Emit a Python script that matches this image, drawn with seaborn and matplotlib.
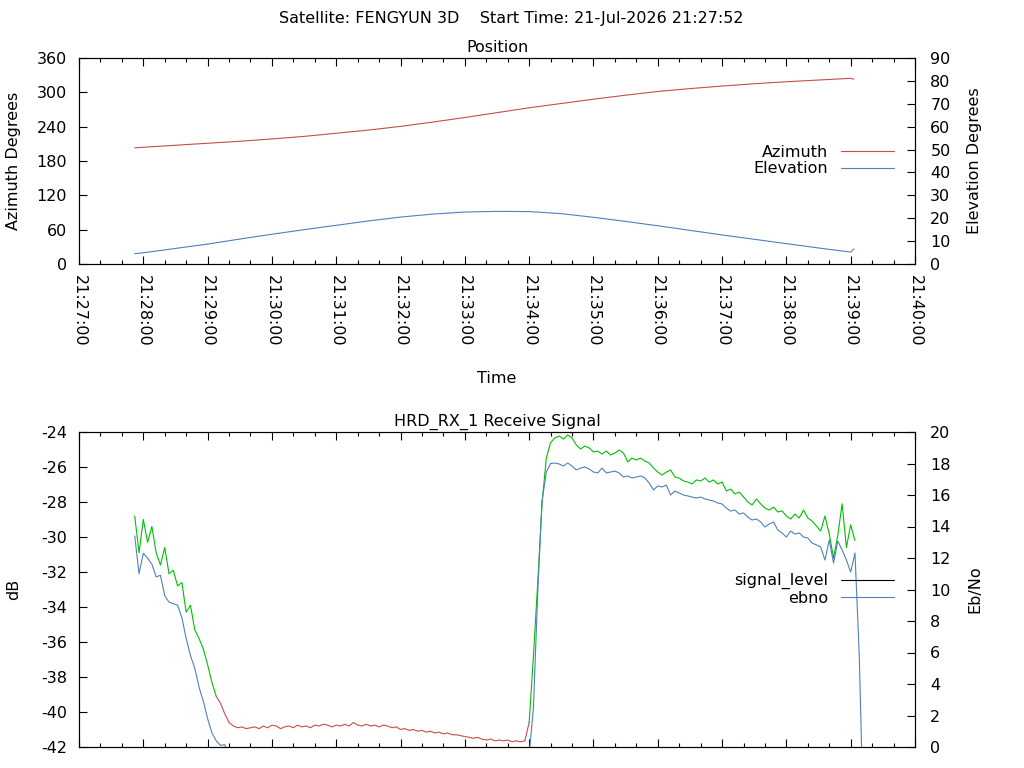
import numpy as np
import pandas as pd
import matplotlib
matplotlib.use("Agg")
import matplotlib.pyplot as plt
import matplotlib.dates as mdates
from matplotlib.lines import Line2D
import seaborn as sns

# ---------------- data ----------------
satellite = "FENGYUN 3D"
start_time = "21-Jul-2026 21:27:52"
axis_start = "2026-07-21 21:27:00"
axis_end = "2026-07-21 21:40:00"

# antenna position, seconds after 21:27:00
position_seconds = [52, 60, 90, 120, 150, 180, 210, 240, 270, 300, 330, 360, 390,
                    420, 450, 480, 510, 540, 570, 600, 630, 660, 690, 720, 723]
azimuth_deg = [203, 204, 207.5, 211, 214.5, 218.5, 223, 228.5, 234, 240.5, 248, 256, 264.5,
               273, 280.5, 288, 295, 301.5, 306.5, 311, 315, 318.5, 321.5, 324.5, 323]
elevation_deg = [4.5, 4.9, 6.8, 8.7, 10.9, 13.0, 15.0, 16.9, 18.8, 20.5, 21.8, 22.7, 23.0,
                 22.9, 22.0, 20.4, 18.6, 16.7, 14.7, 12.7, 10.8, 8.9, 7.0, 5.2, 6.6]

# receiver samples, every 4 s from 21:27:52
signal_start = "2026-07-21 21:27:52"
signal_step_s = 4
signal_level_db = [
    -28.8, -30.9, -29.0, -30.3, -29.4, -30.9, -31.6, -30.6, -32.1, -31.9,
    -32.8, -32.6, -34.3, -33.9, -35.3, -35.8, -36.4, -37.3, -38.3, -39.1,
    -39.5, -40.1, -40.6, -40.8, -40.9,
    -40.85, -40.95, -40.9, -40.85, -40.95, -40.8, -40.9, -40.75, -40.8, -40.95,
    -40.85, -40.8, -40.9, -40.75, -40.85, -40.8, -40.9, -40.75, -40.8, -40.7,
    -40.75, -40.85, -40.75, -40.8, -40.7, -40.8, -40.6, -40.75, -40.8, -40.7,
    -40.8, -40.75, -40.85, -40.75, -40.8, -40.9, -40.85, -41.0, -40.95, -41.05,
    -41.0, -41.1, -41.05, -41.15, -41.1, -41.2, -41.15, -41.25, -41.2, -41.3,
    -41.3, -41.35, -41.4, -41.45, -41.5, -41.45, -41.55, -41.6, -41.55, -41.65,
    -41.6, -41.65, -41.6, -41.7, -41.65, -41.7, -41.65,
    -40.6, -36.8, -32.6, -28.1, -25.5, -24.6,
    -24.34, -24.23, -24.40, -24.17, -24.34, -24.74, -24.97, -24.80, -24.91, -25.14,
    -25.09, -25.26, -25.09, -25.31, -25.20, -25.03, -25.20, -25.71, -25.49, -25.60,
    -25.49, -25.66, -25.77, -26.06, -26.29, -26.46, -26.29, -26.17, -26.57, -26.63,
    -26.80, -26.86, -26.97, -26.74, -26.80, -26.63, -26.86, -26.74, -26.97, -26.86,
    -27.37, -27.26, -27.54, -27.43, -27.71, -28.00, -28.17, -27.83, -28.11, -28.34,
    -28.46, -28.29, -28.57, -28.51, -28.80, -28.97, -28.69, -28.91, -28.46, -28.91,
    -29.09, -29.37, -29.66, -28.80, -29.83, -31.20, -29.90, -28.10, -30.60, -29.30,
    -30.20, np.nan, np.nan,
]
ebno_db = [
    13.4, 11.0, 12.3, 12.0, 11.6, 10.8, 10.9, 9.6, 9.2, 9.1,
    9.0, 8.2, 6.9, 5.8, 5.0, 3.8, 2.9, 1.8, 0.9, 0.4,
    0.1, 0.15, -0.6,
    -1.1, -1.4, -1.2, -1.6, -1.3, -1.5, -1.7, -1.4, -1.6, -1.8,
    -1.5, -1.7, -1.6, -1.9, -1.7, -1.8, -1.6, -1.9, -1.8, -2.0,
    -1.7, -1.9, -1.8, -2.1, -1.9, -2.0, -1.8, -2.1, -1.9, -2.0,
    -2.2, -2.0, -2.1, -1.9, -2.2, -2.0, -2.3, -2.1, -2.2, -2.0,
    -2.3, -2.2, -2.4, -2.1, -2.3, -2.5, -2.2, -2.4, -2.3, -2.5,
    -2.4, -2.6, -2.3, -2.5, -2.6, -2.4, -2.7, -2.5, -2.6, -2.4,
    -2.7, -2.5, -2.6, -2.8, -2.6, -2.7, -2.5, -2.8, -2.6,
    -0.5, 2.5, 9.8, 15.6, 17.46, 18.0,
    18.03, 17.97, 17.84, 18.03, 17.84, 17.59, 17.71, 17.78, 17.65, 17.46,
    17.40, 17.71, 17.40, 17.46, 17.52, 17.40, 17.14, 17.21, 17.08, 17.14,
    17.21, 17.08, 16.76, 16.32, 16.57, 16.51, 16.63, 16.00, 16.25, 16.13,
    16.00, 15.94, 15.87, 15.81, 15.87, 15.75, 15.68, 15.62, 15.49, 15.43,
    15.17, 14.98, 15.05, 14.79, 14.86, 14.60, 14.41, 14.48, 14.29, 13.97,
    14.16, 14.29, 13.78, 13.59, 13.33, 13.71, 13.52, 13.59, 13.33, 13.27,
    12.95, 12.83, 12.70, 11.87, 13.14, 11.68, 13.08, 12.51, 11.87, 11.11,
    12.32, 5.8, -5.0,
]
lock_threshold = 0.3

az_ticks = [0, 60, 120, 180, 240, 300, 360]
el_ticks = [0, 10, 20, 30, 40, 50, 60, 70, 80, 90]
db_ticks = [-42, -40, -38, -36, -34, -32, -30, -28, -26, -24]
ebno_ticks = [0, 2, 4, 6, 8, 10, 12, 14, 16, 18, 20]

RED = "#c0504d"
BLUE = "#4f81bd"
GREEN = "#00c000"
FS = 11.5
LW = 0.8

# ---------------- style ----------------
sns.set_style("ticks")
plt.rcParams["font.family"] = ["DejaVu Sans"]
plt.rcParams.update({
    "axes.unicode_minus": False,
    "text.color": "black", "axes.labelcolor": "black",
    "xtick.color": "black", "ytick.color": "black",
    "axes.edgecolor": "black", "axes.linewidth": 0.8,
    "font.size": FS,
})

fig = plt.figure(figsize=(10.24, 7.68), dpi=100)
W, H = 1024, 768
ax_pos = fig.add_axes([79 / W, 1 - 264 / H, 836 / W, 206 / H])
ax_el = ax_pos.twinx()
ax_sig = fig.add_axes([79 / W, 1 - 747 / H, 836 / W, 315 / H])
ax_eb = ax_sig.twinx()

base = pd.Timestamp(axis_start)
pos_times = base + pd.to_timedelta(position_seconds, unit="s")
pos_df = pd.DataFrame({"time": pos_times, "az": azimuth_deg, "el": elevation_deg})

sns.lineplot(data=pos_df, x="time", y="az", ax=ax_pos, color=RED, linewidth=LW, legend=False)
sns.lineplot(data=pos_df, x="time", y="el", ax=ax_el, color=BLUE, linewidth=LW, legend=False)

sig_times = pd.date_range(signal_start, periods=len(signal_level_db), freq=f"{signal_step_s}s")
sig = np.array(signal_level_db, dtype=float)
eb = np.array(ebno_db, dtype=float)
lock = eb > lock_threshold
idx = np.flatnonzero(~np.isnan(sig))
runs = []
s0 = idx[0]
for i in idx[1:]:
    if lock[i] != lock[i - 1]:
        runs.append((s0, i - 1))
        s0 = i
runs.append((s0, idx[-1]))
frames = []
for n, (s, e) in enumerate(runs):
    lo = s - 1 if s > idx[0] else s
    frames.append(pd.DataFrame({
        "time": sig_times[lo:e + 1], "dB": sig[lo:e + 1], "seg": n,
        "state": "lock" if lock[s] else "nolock"}))
sig_df = pd.concat(frames, ignore_index=True)
sns.lineplot(data=sig_df, x="time", y="dB", hue="state", units="seg", estimator=None,
             palette={"lock": GREEN, "nolock": RED}, linewidth=LW, legend=False,
             sort=False, ax=ax_sig)
eb_df = pd.DataFrame({"time": sig_times, "ebno": eb})
sns.lineplot(data=eb_df, x="time", y="ebno", ax=ax_eb, color=BLUE, linewidth=LW,
             legend=False, estimator=None)

# ---------------- axes ----------------
xlim = (pd.Timestamp(axis_start), pd.Timestamp(axis_end))
for ax in (ax_pos, ax_sig):
    ax.set_xlim(*xlim)
    ax.xaxis.set_major_locator(mdates.MinuteLocator())
    ax.xaxis.set_minor_locator(mdates.SecondLocator(bysecond=[20, 40]))
    ax.xaxis.set_major_formatter(mdates.DateFormatter("%H:%M:%S"))
    ax.tick_params(axis="x", which="both", direction="in", top=True, bottom=True)
    ax.tick_params(axis="x", which="major", length=5.5, width=0.8)
    ax.tick_params(axis="x", which="minor", length=3, width=0.8)
    ax.tick_params(axis="y", which="both", direction="in", left=True, right=False,
                   length=5.5, width=0.8, labelsize=FS, pad=8.5)
for ax in (ax_el, ax_eb):
    ax.tick_params(axis="y", which="both", direction="in", right=True, left=False,
                   length=5.5, width=0.8, labelsize=FS, pad=11)

ax_pos.tick_params(axis="x", which="major", labelsize=FS, labelrotation=-90, pad=8)
ax_sig.tick_params(axis="x", which="both", labelbottom=False)

ax_pos.set_ylim(0, 360)
ax_pos.set_yticks(az_ticks)
ax_el.set_ylim(0, 90)
ax_el.set_yticks(el_ticks)
ax_sig.set_ylim(-42, -24)
ax_sig.set_yticks(db_ticks)
ax_eb.set_ylim(0, 20)
ax_eb.set_yticks(ebno_ticks)

ax_pos.set_xlabel("Time", fontsize=FS)
ax_pos.xaxis.set_label_coords(0.5, (264 - 371) / 206)
ax_sig.set_xlabel("")
ax_pos.set_ylabel("Azimuth Degrees", fontsize=FS)
ax_pos.yaxis.set_label_coords((21 - 79) / 836, 0.5)
ax_el.set_ylabel("Elevation Degrees", fontsize=FS)
ax_el.yaxis.set_label_coords((967 - 79) / 836, 0.5)
ax_sig.set_ylabel("dB", fontsize=FS)
ax_sig.yaxis.set_label_coords((21 - 79) / 836, 0.5)
ax_eb.set_ylabel("Eb/No", fontsize=FS)
ax_eb.yaxis.set_label_coords((967 - 79) / 836, 0.5)

ax_pos.set_title("Position", fontsize=FS, pad=4.3)
ax_sig.set_title("HRD_RX_1 Receive Signal", fontsize=FS, pad=4.3)
fig.text(0.4995, 1 - 23 / H, f"Satellite: {satellite}    Start Time: {start_time}",
         ha="center", va="baseline", fontsize=FS)

leg_kw = dict(loc="center right", frameon=False, markerfirst=False, handlelength=3.3,
              handletextpad=0.8, labelspacing=0.1, borderaxespad=0, fontsize=FS)
ax_el.legend([Line2D([], [], color=RED, lw=LW), Line2D([], [], color=BLUE, lw=LW)],
             ["Azimuth", "Elevation"], bbox_to_anchor=(0.982, 0.502), **leg_kw)
ax_eb.legend([Line2D([], [], color="black", lw=LW), Line2D([], [], color=BLUE, lw=LW)],
             ["signal_level", "ebno"], bbox_to_anchor=(0.982, 0.5), **leg_kw)

fig.savefig("out.png", dpi=100)
